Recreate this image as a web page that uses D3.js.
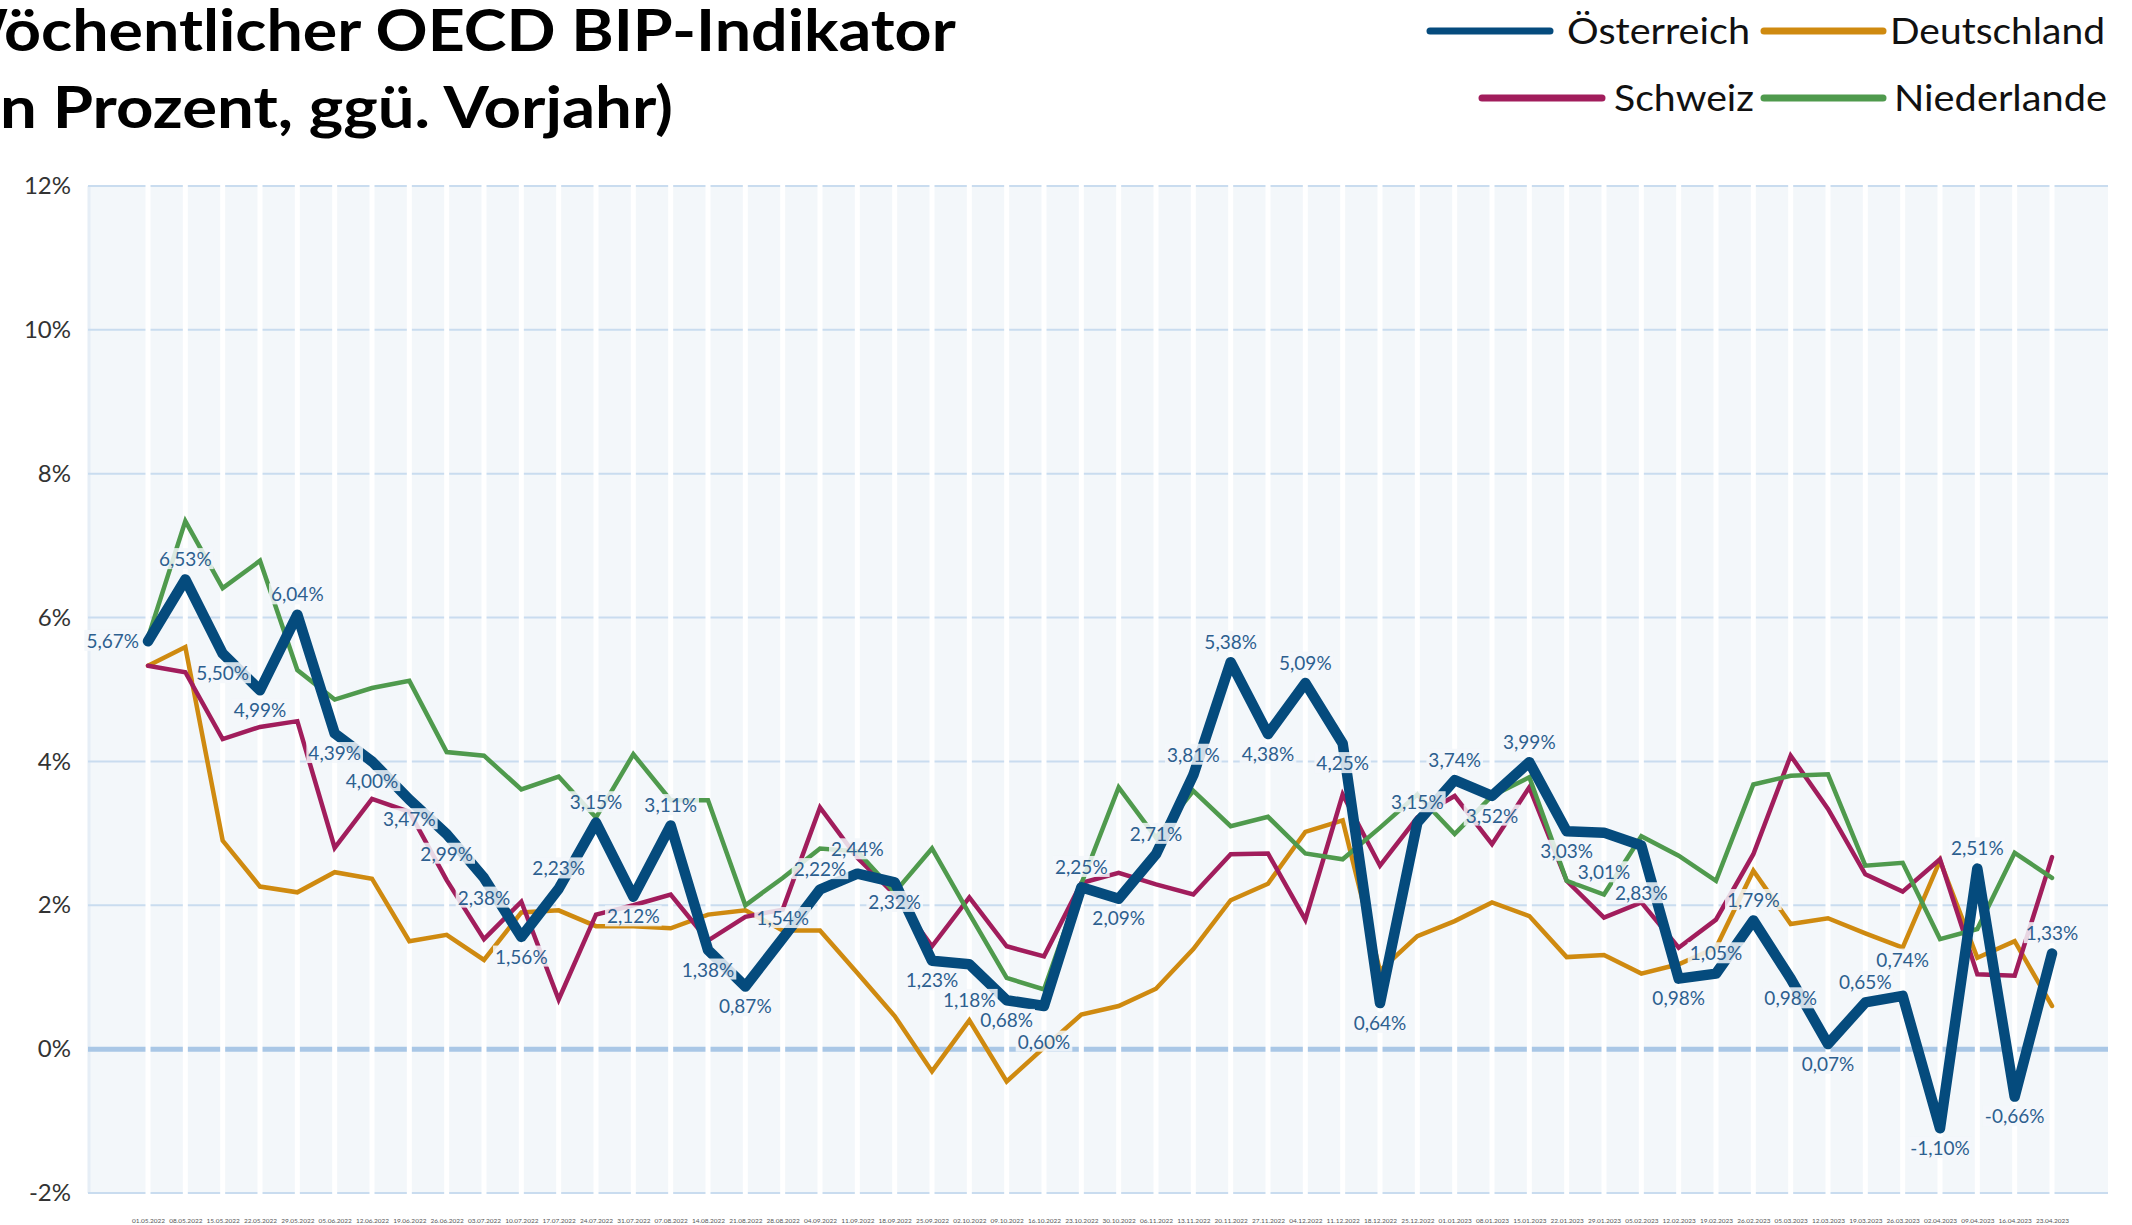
<!DOCTYPE html>
<html><head><meta charset="utf-8">
<script src="https://cdn.jsdelivr.net/npm/d3@7"></script>
<style>
html,body{margin:0;padding:0;background:#fff;overflow:hidden}
svg{display:block}
</style></head><body>
<svg id="chart" width="2132" height="1225"></svg>
<script>
// ---------------- DATA ----------------
const dates = ["01.05.2022","08.05.2022","15.05.2022","22.05.2022","29.05.2022","05.06.2022","12.06.2022","19.06.2022","26.06.2022","03.07.2022","10.07.2022","17.07.2022","24.07.2022","31.07.2022","07.08.2022","14.08.2022","21.08.2022","28.08.2022","04.09.2022","11.09.2022","18.09.2022","25.09.2022","02.10.2022","09.10.2022","16.10.2022","23.10.2022","30.10.2022","06.11.2022","13.11.2022","20.11.2022","27.11.2022","04.12.2022","11.12.2022","18.12.2022","25.12.2022","01.01.2023","08.01.2023","15.01.2023","22.01.2023","29.01.2023","05.02.2023","12.02.2023","19.02.2023","26.02.2023","05.03.2023","12.03.2023","19.03.2023","26.03.2023","02.04.2023","09.04.2023","16.04.2023","23.04.2023"];

const oesterreich = [5.67,6.53,5.50,4.99,6.04,4.39,4.00,3.47,2.99,2.38,1.56,2.23,3.15,2.12,3.11,1.38,0.87,1.54,2.22,2.44,2.32,1.23,1.18,0.68,0.60,2.25,2.09,2.71,3.81,5.38,4.38,5.09,4.25,0.64,3.15,3.74,3.52,3.99,3.03,3.01,2.83,0.98,1.05,1.79,0.98,0.07,0.65,0.74,-1.10,2.51,-0.66,1.33];

const deutschland = [5.33,5.59,2.90,2.26,2.18,2.46,2.37,1.50,1.59,1.24,1.90,1.93,1.71,1.71,1.68,1.87,1.93,1.65,1.65,1.06,0.46,-0.31,0.40,-0.45,0.02,0.48,0.60,0.84,1.39,2.07,2.30,3.02,3.18,1.09,1.57,1.78,2.04,1.85,1.28,1.31,1.05,1.18,1.41,2.48,1.74,1.82,1.61,1.41,2.62,1.27,1.50,0.60];

const schweiz = [5.33,5.24,4.31,4.48,4.56,2.80,3.48,3.30,2.35,1.53,2.05,0.69,1.87,2.00,2.15,1.51,1.84,1.94,3.36,2.66,2.15,1.43,2.11,1.43,1.29,2.31,2.45,2.29,2.15,2.71,2.72,1.80,3.54,2.55,3.22,3.52,2.85,3.64,2.34,1.83,2.04,1.41,1.80,2.71,4.08,3.34,2.43,2.19,2.64,1.04,1.02,2.67];

const niederlande = [5.72,7.34,6.41,6.79,5.27,4.86,5.02,5.12,4.13,4.08,3.61,3.79,3.22,4.10,3.46,3.46,2.00,2.38,2.79,2.75,2.18,2.79,1.88,0.99,0.83,2.30,3.64,2.94,3.59,3.10,3.23,2.72,2.64,3.08,3.54,2.99,3.52,3.78,2.34,2.15,2.96,2.69,2.34,3.68,3.80,3.82,2.55,2.59,1.53,1.67,2.73,2.38];

const yTicks = [-2,0,2,4,6,8,10,12];
const seriesNames = ["Österreich","Deutschland","Schweiz","Niederlande"];
const titleLines = ["Wöchentlicher OECD BIP-Indikator","(in Prozent, ggü. Vorjahr)"];

// ---------------- SETUP ----------------
const FONT = "Lato, 'Open Sans', 'DejaVu Sans', sans-serif";
const colors = {"Österreich":"#054b7d","Deutschland":"#cf8a10","Schweiz":"#a11d5c","Niederlande":"#4f9a4d"};
const valuesBy = {"Österreich":oesterreich,"Deutschland":deutschland,"Schweiz":schweiz,"Niederlande":niederlande};

const svg = d3.select("#chart").style("font-family", FONT);
const plot = {left:88, right:2108, top:186, bottom:1193};

const x = d3.scalePoint().domain(dates).range([148, 2052]);
const y = d3.scaleLinear().domain([-2, 12]).range([plot.bottom, plot.top]);

const de = d3.formatLocale({decimal:",", thousands:".", grouping:[3], currency:["","€"], minus:"-"});
const fmtLabel = v => de.format(".2f")(v) + "%";
const fmtTick = v => de.format("d")(v) + "%";

// background
svg.append("rect").attr("x", plot.left).attr("y", plot.top)
  .attr("width", plot.right - plot.left).attr("height", plot.bottom - plot.top)
  .attr("fill", "#f3f7fa");
svg.append("line").attr("x1", plot.left+1).attr("x2", plot.left+1)
  .attr("y1", plot.top).attr("y2", plot.bottom)
  .attr("stroke", "#e6eef6").attr("stroke-width", 3);

// horizontal grid
svg.append("g").selectAll("line").data(yTicks).join("line")
  .attr("x1", plot.left).attr("x2", plot.right)
  .attr("y1", d => y(d)).attr("y2", d => y(d))
  .attr("stroke", d => d === 0 ? "#a9c7e6" : "#c9dcef")
  .attr("stroke-width", d => d === 0 ? 5 : 2);

// vertical white grid at each category
svg.append("g").selectAll("line").data(dates).join("line")
  .attr("x1", d => x(d)).attr("x2", d => x(d))
  .attr("y1", plot.top - 2).attr("y2", plot.bottom + 3)
  .attr("stroke", "#ffffff").attr("stroke-width", 5);

// y axis
const yAxis = svg.append("g").attr("transform", `translate(${plot.left},0)`)
  .call(d3.axisLeft(y).tickValues(yTicks).tickFormat(fmtTick).tickSize(0).tickPadding(17));
yAxis.select(".domain").remove();
yAxis.selectAll("text").attr("font-size", 24).attr("fill", "#333").attr("font-family", FONT);

// x axis
const xAxis = svg.append("g").attr("transform", `translate(0,1215)`)
  .call(d3.axisBottom(x).tickSize(0).tickPadding(3));
xAxis.select(".domain").remove();
xAxis.selectAll("text").attr("font-size", 6.5).attr("fill", "#555").attr("font-family", FONT);

// lines
const lineGen = d3.line().x((d, i) => x(dates[i])).y(d => y(d));
const drawOrder = ["Deutschland","Schweiz","Niederlande","Österreich"];
drawOrder.forEach(name => {
  const main = name === "Österreich";
  svg.append("path").datum(valuesBy[name])
    .attr("d", lineGen)
    .attr("fill", "none")
    .attr("stroke", colors[name])
    .attr("stroke-width", main ? 10.5 : 4.5)
    .attr("stroke-linejoin", main ? "round" : "miter")
    .attr("stroke-linecap", "round");
});

// data labels for Österreich (side by direction, simple collision avoidance)
const lblG = svg.append("g");
const placed = [];
const overlaps = (a, b) => a.x < b.x + b.width && b.x < a.x + a.width && a.y < b.y + b.height && b.y < a.y + a.height;
oesterreich.forEach((v, i) => {
  const px = x(dates[i]), py = y(v);
  const side = i === 0 ? "left" : (v > oesterreich[i-1] ? "above" : "below");
  let tx = px, ty = py, anchor = "middle";
  if (side === "left") { tx = px - 9; anchor = "end"; }
  else if (side === "above") { ty = py - 20; }
  else { ty = py + 20; }
  const g = lblG.append("g");
  const t = g.append("text").attr("x", tx).attr("y", ty).attr("dy", "0.35em")
    .attr("text-anchor", anchor).attr("font-size", 19).attr("fill", "#2d5f8f")
    .attr("font-family", FONT).text(fmtLabel(v));
  let bb = t.node().getBBox();
  let box = {x: bb.x - 1, y: bb.y + 2, width: bb.width + 2, height: bb.height - 4};
  let guard = 0;
  while (placed.some(p => overlaps(p, box)) && guard < 20) {
    const dir = side === "above" ? -1 : 1;
    ty += dir * 4;
    box.y += dir * 4;
    guard++;
  }
  t.attr("y", ty);
  placed.push(box);
  bb = t.node().getBBox();
  g.insert("rect", "text").attr("x", bb.x - 2).attr("y", bb.y + 1)
    .attr("width", bb.width + 4).attr("height", bb.height - 2)
    .attr("fill", "#f3f7fa").attr("opacity", 0.85);
});

// title
function fitLine(text, hiddenPrefix, visibleStart, visibleEnd, baseline) {
  const t = svg.append("text").attr("font-size", 58).attr("font-weight", 700)
    .attr("fill", "#000").attr("font-family", FONT).text(text);
  const full = t.node().getComputedTextLength();
  const probe = svg.append("text").attr("font-size", 58).attr("font-weight", 700)
    .attr("font-family", FONT).text(hiddenPrefix);
  const pre = probe.node().getComputedTextLength();
  probe.remove();
  const sx = (visibleEnd - visibleStart) / (full - pre);
  t.attr("transform", `translate(${visibleStart - pre * sx},${baseline}) scale(${sx},1)`);
}
fitLine(titleLines[0], "W", 8, 956, 51);
fitLine(titleLines[1], "(i", 0, 673, 128);

// legend
const legendItems = [
  {name:"Österreich", x1:1430, x2:1550, tx:1567, tw:183, y:31},
  {name:"Deutschland", x1:1764, x2:1883, tx:1890, tw:215, y:31},
  {name:"Schweiz", x1:1482, x2:1602, tx:1614, tw:140, y:98},
  {name:"Niederlande", x1:1764, x2:1883, tx:1894, tw:213, y:98}
];
const lg = svg.append("g");
legendItems.forEach(it => {
  lg.append("line").attr("x1", it.x1).attr("x2", it.x2).attr("y1", it.y).attr("y2", it.y)
    .attr("stroke", colors[it.name]).attr("stroke-width", 7).attr("stroke-linecap", "round");
  lg.append("text").attr("x", it.tx).attr("y", it.y).attr("dy", "0.36em")
    .attr("font-size", 37).attr("fill", "#111").attr("font-family", FONT)
    .attr("textLength", it.tw).attr("lengthAdjust", "spacingAndGlyphs")
    .text(it.name);
});
</script>
</body></html>
